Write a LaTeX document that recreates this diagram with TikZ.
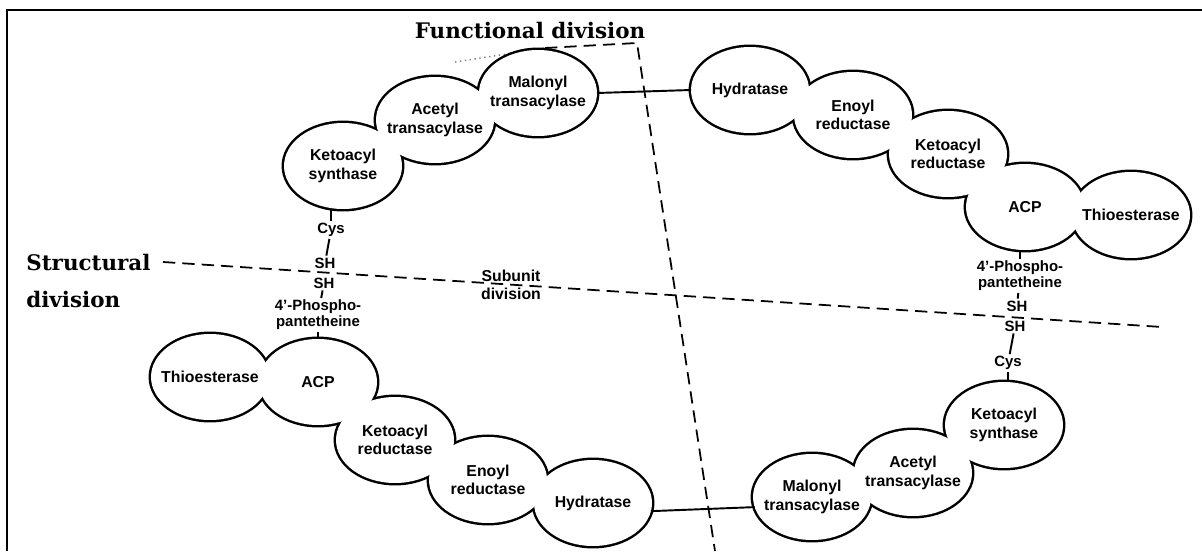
\documentclass[tikz,border=0pt]{standalone}
\usepackage{fontspec}
\setmainfont{DejaVu Serif}
\setsansfont{Liberation Sans}
\usetikzlibrary{shapes.geometric}

% enzyme domains: name/x/y/label (pixels, y downwards)
\def\enzymes{ks1/343/166/Ketoacyl\\synthase, at1/435/120/Acetyl\\transacylase,
	mt1/538/93/Malonyl\\transacylase, hy1/750/90/Hydratase,
	er1/853/115/Enoyl\\reductase, kr1/948/154/Ketoacyl\\reductase,
	acp1/1025/207/ACP, te1/1131/215/Thioesterase,
	te2/210/377/Thioesterase, acp2/318/382/ACP,
	kr2/395/440/Ketoacyl\\reductase, er2/488/480/Enoyl\\reductase,
	hy2/593/503/Hydratase, mt2/812/497/Malonyl\\transacylase,
	at2/913/473/Acetyl\\transacylase, ks2/1004/425/Ketoacyl\\synthase}

\begin{document}
\begin{tikzpicture}[x=0.02cm, y=-0.02cm,
		blob/.style={ellipse, minimum width=2.36cm, minimum height=1.72cm, inner sep=0pt, outer sep=0pt},
		enz/.style={font=\sffamily\bfseries\fontsize{9}{10.5}\selectfont, align=center},
		tag/.style={font=\sffamily\bfseries\fontsize{8.5}{9}\selectfont, align=center, inner sep=1pt},
		title/.style={font=\bfseries\fontsize{12.2}{21.6}\selectfont, align=left, inner sep=0pt},
		link/.style={line width=1.1pt},
		divline/.style={line width=1pt, dash pattern=on 7pt off 4pt}]
		\useasboundingbox (0,0) rectangle (1202,551);
		\draw[line width=1.2pt] (7,551) -- (7,10) -- (1202,10);
		
		\coordinate (sd1) at (163,262);
		\coordinate (sd2) at (1162,327);
		\coordinate (fd0) at (455,62);
		\coordinate (fd1) at (545,48);
		\coordinate (fd2) at (637,43);
		\coordinate (fd3) at (715,551);
		
		% division lines
		\draw[divline] (sd1) -- (sd2);
		\draw[divline] (fd1) -- (fd2) -- (fd3);
		\draw[dotted, gray, line width=0.8pt] (fd0) -- (fd1);
		
		% outlines first, the white fills then hide the overlapping arcs
		\foreach \n/\x/\y/\lbl in \enzymes
			\node[blob, draw, line width=2.8pt] at (\x,\y) {};
		\foreach \n/\x/\y/\lbl in \enzymes{
			\node[blob, fill=white] (\n) at (\x,\y) {};
			\node[enz] (\n-t) at (\n) {\lbl};
		}
		
		\draw[link] (mt1.east) -- (hy1.west);
		\draw[link] (hy2.-8) -- (mt2.190);
		
		% left subunit
		\node[tag] (cys1) at (331,230) {Cys};
		\node[tag] (sha1) at (325,263) {SH};
		\node[tag] (shb1) at (324,283) {SH};
		\node[tag] (php1) at (318,315) {4'-Phospho-\\pantetheine};
		\draw[link] (cys1) -- (cys1 |- ks1.south);
		\draw[link] (cys1) -- (sha1);
		\draw[link] (shb1) -- (php1);
		\draw[link] (php1) -- (php1 |- acp2.north);
		
		% right subunit
		\node[tag] (php2) at (1020,276) {4'-Phospho-\\pantetheine};
		\node[tag] (sha2) at (1017,306) {SH};
		\node[tag] (shb2) at (1015,326) {SH};
		\node[tag] (cys2) at (1008,363) {Cys};
		\draw[link] (php2) -- (php2 |- acp1.south);
		\draw[link] (php2) -- (sha2);
		\draw[link] (shb2) -- (cys2);
		\draw[link] (cys2) -- (cys2 |- ks2.north);
		
		\node[title] (fdiv) at (530,31) {Functional division};
		\node[title, anchor=west] (sdiv) at (26,281) {Structural\\division};
		\node[enz] (subd) at (511,285) {Subunit\\division};
	\end{tikzpicture}
\end{document}
